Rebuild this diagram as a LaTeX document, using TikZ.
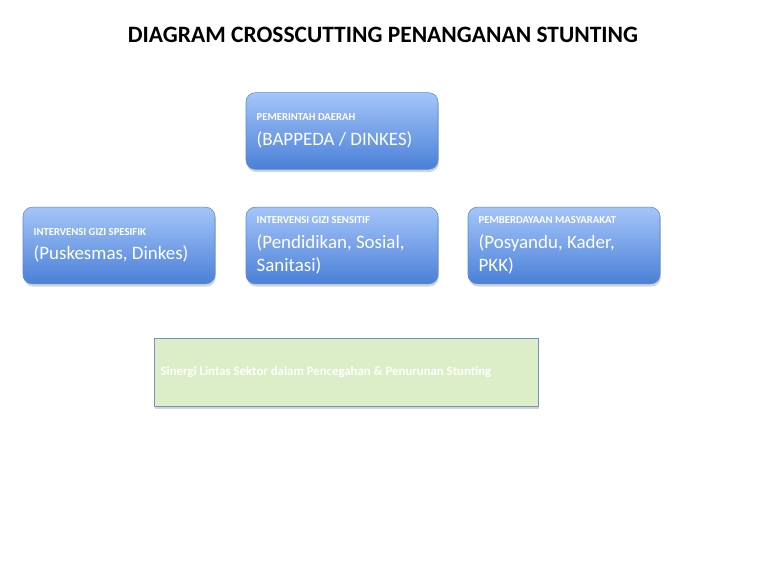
\documentclass[tikz,border=0pt]{standalone}
\usepackage{fontspec}
\setmainfont{Carlito}
\usetikzlibrary{shadows}
\definecolor{boxtop}{HTML}{A5C5F9}
\definecolor{boxbottom}{HTML}{4A80D8}
\definecolor{boxline}{HTML}{5A8AD0}
\definecolor{synfill}{HTML}{DCEEC8}
\definecolor{synline}{HTML}{6E94C8}
\tikzset{
  unit/.style={
    draw=boxline,
    rounded corners=7pt,
    top color=boxtop,
    bottom color=boxbottom,
    text=white,
    minimum width=144pt,
    minimum height=57.5pt,
    text width=128pt,
    inner xsep=8pt,
    align=flush left,
    font=\fontsize{14.2}{17.3}\selectfont,
    drop shadow={opacity=0.35, shadow xshift=0.6pt, shadow yshift=-2pt}
  },
  synergy/.style={
    draw=synline,
    fill=synfill,
    text=white,
    minimum width=288pt,
    minimum height=51pt,
    text width=278pt,
    inner xsep=5pt,
    align=flush left,
    font=\fontsize{9.6}{11}\selectfont\bfseries,
    drop shadow={opacity=0.35, shadow xshift=0.6pt, shadow yshift=-2pt}
  },
  heading/.style={font=\fontsize{17.6}{20}\selectfont\bfseries}
}
\newcommand{\unitlabel}[2]{{\fontsize{8}{9}\selectfont\bfseries #1}\\[1pt]#2}

\begin{document}
\begin{tikzpicture}[x=0.75pt, y=-0.75pt]
  \useasboundingbox (0,0) rectangle (768,576);
  \node[heading] (title) at (383,35) {DIAGRAM CROSSCUTTING PENANGANAN STUNTING};
  \node[unit] (pemda) at (342,131) {\unitlabel{PEMERINTAH DAERAH}{(BAPPEDA / DINKES)}};
  \node[unit] (spesifik) at (119,245.5) {\unitlabel{INTERVENSI GIZI SPESIFIK}{(Puskesmas, Dinkes)}};
  \node[unit] (sensitif) at (342,245.5) {\unitlabel{INTERVENSI GIZI SENSITIF}{(Pendidikan, Sosial, Sanitasi)}};
  \node[unit] (masyarakat) at (564,245.5) {\unitlabel{PEMBERDAYAAN MASYARAKAT}{(Posyandu, Kader, PKK)}};
  \node[synergy] (sinergi) at (346,372) {Sinergi Lintas Sektor dalam Pencegahan \& Penurunan Stunting};
\end{tikzpicture}
\end{document}
